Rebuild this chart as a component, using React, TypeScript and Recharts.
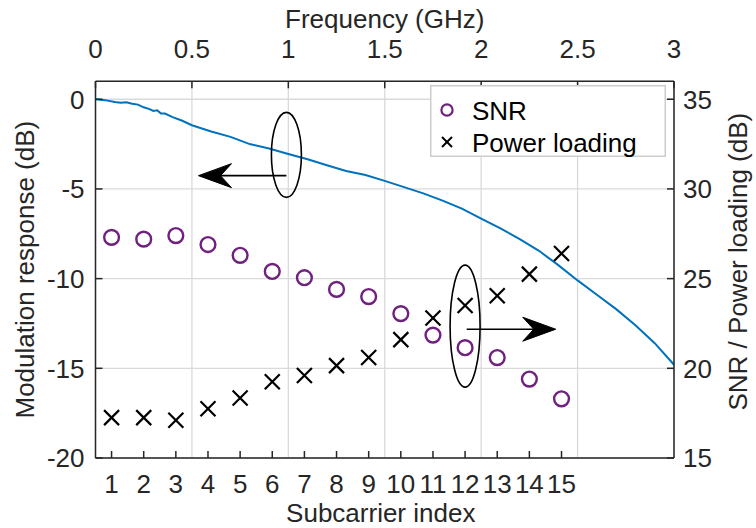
import React from 'react';
import {
  ComposedChart,
  Line,
  Scatter,
  XAxis,
  YAxis,
  CartesianGrid,
  ReferenceDot,
  ReferenceLine,
  Legend,
} from 'recharts';

// ---------- data ----------
const freqGHz = [
  0, 0.05, 0.1, 0.13, 0.16, 0.19, 0.22, 0.25, 0.28, 0.3, 0.32, 0.34, 0.36, 0.4, 0.45,
  0.5, 0.6, 0.7, 0.8, 0.9, 1.0, 1.1, 1.2, 1.3, 1.4, 1.5, 1.6, 1.7, 1.8, 1.9, 2.0,
  2.1, 2.2, 2.3, 2.4, 2.5, 2.6, 2.7, 2.8, 2.9, 3.0,
];
const modResponseDb = [
  0, -0.05, -0.15, -0.2, -0.17, -0.25, -0.3, -0.45, -0.55, -0.65, -0.62, -0.8, -0.8, -1.0, -1.2,
  -1.45, -1.8, -2.1, -2.5, -2.75, -3.05, -3.35, -3.68, -4.0, -4.22, -4.55, -4.9, -5.25, -5.65, -6.1, -6.65,
  -7.2, -7.8, -8.45, -9.25, -10.1, -10.9, -11.7, -12.6, -13.6, -14.8,
];

const subcarrierIndex = [1, 2, 3, 4, 5, 6, 7, 8, 9, 10, 11, 12, 13, 14, 15];
const snrDb = [27.3, 27.2, 27.4, 26.9, 26.3, 25.4, 25.05, 24.4, 24.0, 23.05, 21.85, 21.15, 20.6, 19.4, 18.3];
const powerLoadingDb = [17.25, 17.25, 17.1, 17.75, 18.35, 19.25, 19.6, 20.15, 20.6, 21.6, 22.8, 23.5, 24.05, 25.25, 26.4];

const freqTicks = [0, 0.5, 1, 1.5, 2, 2.5, 3];
const leftTicks = [-20, -15, -10, -5, 0];
const rightTicks = [15, 20, 25, 30, 35];

const seriesNames = ['SNR', 'Power loading'];

// annotations (data coordinates)
const leftEllipse = { f: 0.99, db: -3.1 };
const leftArrow = { from: 0.99, to: 0.62, tip: 0.534, db: -4.26 };
const rightEllipse = { s: 12, v: 22.35 };
const rightArrow = { from: 12.05, to: 14.4, tip: 14.82, v: 22.18 };

// ---------- tables ----------
const lineData = freqGHz.map((f, i) => ({ f, m: modResponseDb[i] }));
const snrData = subcarrierIndex.map((s, i) => ({ s, v: snrDb[i] }));
const powerData = subcarrierIndex.map((s, i) => ({ s, v: powerLoadingDb[i] }));

// ---------- styles ----------
const FONT = '"Liberation Sans", Arial, Helvetica, sans-serif';
const AX = '#262626';
const FS = 26;
const BLUE = '#0072BD';
const PURPLE = '#70207E';

const LeftTick = (p: any) => (
  <g>
    <line x1={p.x} y1={p.y} x2={p.x + 7} y2={p.y} stroke={AX} strokeWidth={1.5} />
    <text x={p.x - 11} y={p.y + 9.3} textAnchor="end" fontSize={FS} fill={AX} fontFamily={FONT}>
      {p.payload.value}
    </text>
  </g>
);
const RightTick = (p: any) => (
  <g>
    <line x1={p.x} y1={p.y} x2={p.x - 7} y2={p.y} stroke={AX} strokeWidth={1.5} />
    <text x={p.x + 9} y={p.y + 9.3} textAnchor="start" fontSize={FS} fill={AX} fontFamily={FONT}>
      {p.payload.value}
    </text>
  </g>
);
const TopTick = (p: any) => (
  <g>
    <line x1={p.x} y1={p.y} x2={p.x} y2={p.y + 7} stroke={AX} strokeWidth={1.5} />
    <text x={p.x} y={p.y - 23} textAnchor="middle" fontSize={FS} fill={AX} fontFamily={FONT}>
      {p.payload.value}
    </text>
  </g>
);
const BottomTick = (p: any) => (
  <g>
    <line x1={p.x} y1={p.y} x2={p.x} y2={p.y - 7} stroke={AX} strokeWidth={1.5} />
    <text x={p.x} y={p.y + 34.5} textAnchor="middle" fontSize={FS} fill={AX} fontFamily={FONT}>
      {p.payload.value}
    </text>
  </g>
);

const titleStyle = { fontSize: FS, fill: AX, fontFamily: FONT } as const;

const TopTitle = (p: any) => {
  const vb = p.viewBox || { x: 95.5, width: 578.5 };
  return (
    <text x={vb.x + vb.width / 2} y={28} textAnchor="middle" {...titleStyle}>
      Frequency (GHz)
    </text>
  );
};
const BottomTitle = (p: any) => {
  const vb = p.viewBox || { x: 95.5, y: 458, width: 578.5 };
  return (
    <text x={vb.x + vb.width / 2 - 4} y={vb.y + 64} textAnchor="middle" {...titleStyle}>
      Subcarrier index
    </text>
  );
};
const LeftTitle = (p: any) => {
  const vb = p.viewBox || { y: 81.3, height: 376.7 };
  const cy = vb.y + vb.height / 2;
  return (
    <text x={34} y={cy} transform={`rotate(-90, 34, ${cy})`} textAnchor="middle" {...titleStyle}>
      Modulation response (dB)
    </text>
  );
};
const RightTitle = (p: any) => {
  const vb = p.viewBox || { x: 674, y: 81.3, height: 376.7 };
  const cy = vb.y + vb.height / 2 - 8;
  const cx = vb.x + 73;
  return (
    <text x={cx} y={cy} transform={`rotate(-90, ${cx}, ${cy})`} textAnchor="middle" {...titleStyle}>
      SNR / Power loading (dB)
    </text>
  );
};

const CircleMark = (p: any) => (
  <circle cx={p.cx} cy={p.cy} r={7.4} fill="none" stroke={PURPLE} strokeWidth={2.4} />
);
const XMark = (p: any) => (
  <g stroke="#000" strokeWidth={2.2}>
    <line x1={p.cx - 7.5} y1={p.cy - 7.5} x2={p.cx + 7.5} y2={p.cy + 7.5} />
    <line x1={p.cx - 7.5} y1={p.cy + 7.5} x2={p.cx + 7.5} y2={p.cy - 7.5} />
  </g>
);

const Ellipse = (rx: number, ry: number) => (p: any) => (
  <ellipse cx={p.cx} cy={p.cy} rx={rx} ry={ry} fill="none" stroke="#000" strokeWidth={1.6} />
);
const ArrowHead = (dir: number) => (p: any) => {
  const { cx, cy } = p;
  const pts = [
    [cx, cy],
    [cx - dir * 33, cy - 12],
    [cx - dir * 22, cy],
    [cx - dir * 33, cy + 12],
  ]
    .map((q) => q.join(','))
    .join(' ');
  return <polygon points={pts} fill="#000" stroke="#000" strokeWidth={1} />;
};

const renderLegend = () => (
  <svg width={236} height={72} style={{ display: 'block' }}>
    <rect x={0.75} y={0.75} width={234.5} height={70.5} fill="#fff" stroke="#cdcdcd" strokeWidth={1.5} />
    <circle cx={17} cy={25} r={5.6} fill="none" stroke={PURPLE} strokeWidth={2.2} />
    <text x={42} y={34.5} fontSize={FS} fill="#000" fontFamily={FONT}>
      {seriesNames[0]}
    </text>
    <g stroke="#000" strokeWidth={2}>
      <line x1={12} y1={52} x2={22} y2={62} />
      <line x1={12} y1={62} x2={22} y2={52} />
    </g>
    <text x={42} y={66.5} fontSize={FS} fill="#000" fontFamily={FONT}>
      {seriesNames[1]}
    </text>
  </svg>
);

export default function App() {
  return (
    <div style={{ position: 'absolute', left: 0, top: 0, width: 756, height: 528, background: '#fff' }}>
      <ComposedChart
        width={756}
        height={528}
        margin={{ top: 0, right: 0, bottom: 0, left: 0 }}
        style={{ fontFamily: FONT }}
      >
        <CartesianGrid
          xAxisId="f"
          yAxisId="l"
          stroke="#dadada"
          strokeWidth={1.3}
          horizontal
          vertical
        />
        <XAxis
          xAxisId="f"
          dataKey="f"
          type="number"
          orientation="top"
          domain={[0, 3]}
          ticks={freqTicks}
          interval={0}
          height={81.3}
          tickSize={0}
          tickMargin={0}
          tickLine={false}
          tick={<TopTick />}
          axisLine={{ stroke: AX, strokeWidth: 1.5 }}
          label={{ content: TopTitle }}
        />
        <XAxis
          xAxisId="s"
          dataKey="s"
          type="number"
          orientation="bottom"
          domain={[0.5, 18.5]}
          ticks={subcarrierIndex}
          interval={0}
          height={70}
          tickSize={0}
          tickMargin={0}
          tickLine={false}
          tick={<BottomTick />}
          axisLine={{ stroke: AX, strokeWidth: 1.5 }}
          label={{ content: BottomTitle }}
        />
        <YAxis
          yAxisId="l"
          dataKey="m"
          type="number"
          orientation="left"
          domain={[-20, 1]}
          ticks={leftTicks}
          interval={0}
          width={95.5}
          tickSize={0}
          tickMargin={0}
          tickLine={false}
          tick={<LeftTick />}
          axisLine={{ stroke: AX, strokeWidth: 1.5 }}
          label={{ content: LeftTitle }}
        />
        <YAxis
          yAxisId="r"
          dataKey="v"
          type="number"
          orientation="right"
          domain={[15, 36]}
          ticks={rightTicks}
          interval={0}
          width={82}
          tickSize={0}
          tickMargin={0}
          tickLine={false}
          tick={<RightTick />}
          axisLine={{ stroke: AX, strokeWidth: 1.5 }}
          label={{ content: RightTitle }}
        />
        <Line
          xAxisId="f"
          yAxisId="l"
          data={lineData}
          dataKey="m"
          type="linear"
          stroke={BLUE}
          strokeWidth={2}
          dot={false}
          activeDot={false}
          isAnimationActive={false}
          legendType="none"
        />
        <Scatter
          name={seriesNames[0]}
          xAxisId="s"
          yAxisId="r"
          data={snrData}
          dataKey="v"
          shape={CircleMark}
          isAnimationActive={false}
        />
        <Scatter
          name={seriesNames[1]}
          xAxisId="s"
          yAxisId="r"
          data={powerData}
          dataKey="v"
          shape={XMark}
          isAnimationActive={false}
        />
        <ReferenceDot
          xAxisId="f"
          yAxisId="l"
          x={leftEllipse.f}
          y={leftEllipse.db}
          r={0}
          shape={Ellipse(15, 42.5)}
        />
        <ReferenceLine
          xAxisId="f"
          yAxisId="l"
          segment={[
            { x: leftArrow.from, y: leftArrow.db },
            { x: leftArrow.to, y: leftArrow.db },
          ]}
          stroke="#000"
          strokeWidth={1.6}
        />
        <ReferenceDot
          xAxisId="f"
          yAxisId="l"
          x={leftArrow.tip}
          y={leftArrow.db}
          r={0}
          shape={ArrowHead(-1)}
        />
        <ReferenceDot
          xAxisId="s"
          yAxisId="r"
          x={rightEllipse.s}
          y={rightEllipse.v}
          r={0}
          shape={Ellipse(15, 61)}
        />
        <ReferenceLine
          xAxisId="s"
          yAxisId="r"
          segment={[
            { x: rightArrow.from, y: rightArrow.v },
            { x: rightArrow.to, y: rightArrow.v },
          ]}
          stroke="#000"
          strokeWidth={1.6}
        />
        <ReferenceDot
          xAxisId="s"
          yAxisId="r"
          x={rightArrow.tip}
          y={rightArrow.v}
          r={0}
          shape={ArrowHead(1)}
        />
        <Legend
          layout="vertical"
          align="center"
          verticalAlign="middle"
          content={renderLegend}
          wrapperStyle={{ left: 430, top: 85, width: 236, height: 72, right: 'auto', bottom: 'auto' }}
        />
      </ComposedChart>
    </div>
  );
}
